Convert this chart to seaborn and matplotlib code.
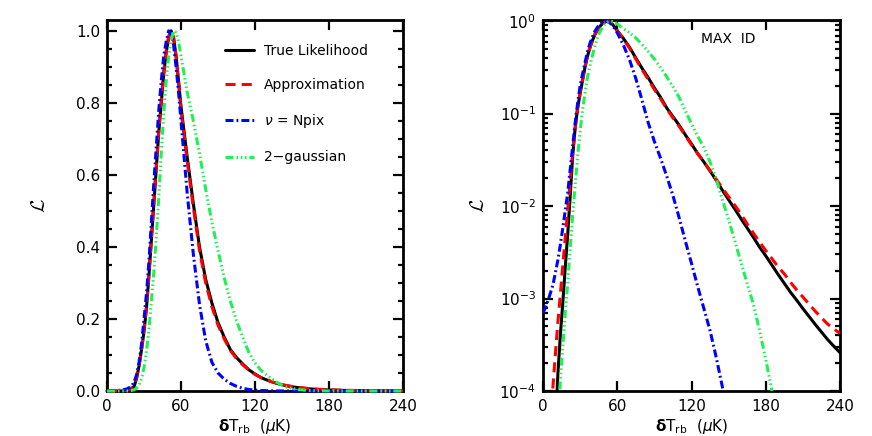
import matplotlib
matplotlib.use("Agg")
import matplotlib.pyplot as plt
import numpy as np
import pandas as pd
import seaborn as sns
from matplotlib.ticker import MultipleLocator, LogLocator, NullFormatter, FixedLocator

# ---------------- data ----------------
t_grid = [0, 2, 4, 6, 8, 10, 12, 14, 16, 18, 20, 22, 24, 26, 28, 30, 32, 34, 36, 38,
          40, 42, 44, 46, 48, 50, 52, 54, 56, 58, 60,
          65, 70, 75, 80, 85, 90, 95, 100, 105, 110, 115, 120, 125, 130, 135, 140,
          145, 150, 155, 160, 165, 170, 175, 180, 185, 190, 195, 200, 205, 210, 215,
          220, 225, 230, 235, 240]

true_like = [1e-9, 1e-8, 1e-7, 1e-6, 8e-6, 4e-5, 1.5e-4, 4e-4, 9e-4, 2.2e-3, 5e-3, 1.3e-2,
             0.035, 0.07, 0.115, 0.165, 0.23, 0.32, 0.42, 0.52, 0.62, 0.72, 0.80, 0.88,
             0.94, 0.98, 1.0, 0.98, 0.93, 0.86, 0.79,
             0.65, 0.52, 0.40, 0.31, 0.245, 0.19, 0.15, 0.115, 0.093, 0.075, 0.059, 0.047,
             0.037, 0.030, 0.024, 0.019, 0.0148, 0.0117, 0.0093, 0.0073, 0.0058, 0.0046,
             0.0036, 0.0029, 0.0023, 0.00182, 0.00146, 0.00117, 9.6e-4, 7.8e-4, 6.4e-4,
             5.25e-4, 4.35e-4, 3.6e-4, 3.05e-4, 2.6e-4]

approx = [1e-7, 1e-6, 8e-6, 4e-5, 1.1e-4, 2.5e-4, 5.5e-4, 1.1e-3, 2.3e-3, 4.6e-3, 9e-3,
          0.019, 0.038, 0.07, 0.115, 0.17, 0.235, 0.325, 0.425, 0.525, 0.625, 0.725, 0.81,
          0.885, 0.945, 0.985, 1.0, 0.98, 0.93, 0.86, 0.78,
          0.64, 0.51, 0.39, 0.30, 0.235, 0.183, 0.145, 0.113, 0.09, 0.073, 0.058, 0.046,
          0.037, 0.030, 0.0242, 0.0195, 0.0156, 0.0126, 0.0102, 0.0082, 0.0064, 0.0051,
          0.0041, 0.0033, 0.0027, 0.0022, 0.00185, 0.0015, 0.00124, 0.00104, 8.7e-4,
          7.3e-4, 6.2e-4, 5.3e-4, 4.7e-4, 4.2e-4]

nu_npix = [7e-4, 8e-4, 9.5e-4, 1.15e-3, 1.4e-3, 1.9e-3, 2.6e-3, 3.8e-3, 5.8e-3, 9e-3, 0.014,
           0.025, 0.045, 0.08, 0.13, 0.2, 0.27, 0.36, 0.47, 0.58, 0.68, 0.78, 0.86, 0.93,
           0.97, 1.0, 0.99, 0.96, 0.9, 0.83, 0.75,
           0.55, 0.38, 0.24, 0.14, 0.08, 0.05, 0.033, 0.021, 0.013, 0.0075, 0.0042, 0.0024,
           1.35e-3, 7.8e-4, 4.5e-4, 2.3e-4, 1.1e-4, 5e-5, 2e-5, 8e-6, 3e-6, 1e-6, 4e-7,
           1.5e-7, 5e-8, 2e-8, 7e-9, 2.5e-9, 1e-9, 4e-10, 1.5e-10, 5e-11, 2e-11, 7e-12,
           2.5e-12, 1e-12]

two_gauss = [1e-10, 1e-9, 1e-8, 1e-7, 1e-6, 1e-5, 4e-5, 1.3e-4, 3e-4, 7e-4, 1.5e-3, 3.5e-3,
             8e-3, 0.017, 0.035, 0.065, 0.11, 0.17, 0.25, 0.33, 0.43, 0.54, 0.66, 0.77,
             0.86, 0.93, 0.975, 1.0, 0.995, 0.97, 0.93,
             0.83, 0.75, 0.66, 0.56, 0.47, 0.39, 0.315, 0.25, 0.195, 0.15, 0.107, 0.078,
             0.057, 0.043, 0.030, 0.0195, 0.0117, 0.0071, 0.0042, 0.00245, 0.00145, 8.7e-4,
             4.5e-4, 2.2e-4, 1e-4, 4e-5, 1.5e-5, 5e-6, 1.5e-6, 4e-7, 1e-7, 2.5e-8, 6e-9,
             1.5e-9, 3e-10, 6e-11]

series_names = ["True Likelihood", "Approximation", r"$\nu$ = Npix", "2\u2212gaussian"]
series_colors = ["#000000", "#ff0000", "#0000ff", "#22ee55"]
series_dashes = ["", (3.3, 2.0), (2.6, 1.0, 0.6, 1.0),
                 (2.6, 1.0, 0.5, 0.9, 0.5, 0.9, 0.5, 0.9)]
x_ticks = [0, 60, 120, 180, 240]
y_ticks_lin = [0.0, 0.2, 0.4, 0.6, 0.8, 1.0]
y_ticklabels_lin = ["0.0", "0.2", "0.4", "0.6", "0.8", "1.0"]
y_ticks_log = [1e-4, 1e-3, 1e-2, 1e-1, 1e0]
panel_note = "MAX  ID"

frames = []
for name, vals in zip(series_names, [true_like, approx, nu_npix, two_gauss]):
    frames.append(pd.DataFrame({"T": t_grid, "L": vals, "series": name}))
df = pd.concat(frames, ignore_index=True)

# ---------------- style ----------------
sns.set_theme(style="ticks")
plt.rcParams.update({
    "font.family": ["DejaVu Sans"],
    "font.size": 10,
    "axes.edgecolor": "black",
    "axes.linewidth": 2.0,
    "axes.facecolor": "white",
    "figure.facecolor": "white",
    "xtick.color": "black",
    "ytick.color": "black",
    "text.color": "black",
    "axes.labelcolor": "black",
})

fig = plt.figure(figsize=(8.72, 4.36), dpi=100)
ax1 = fig.add_axes([107 / 872, 1 - 391 / 436, 296 / 872, 371 / 436])
ax2 = fig.add_axes([543 / 872, 1 - 391 / 436, 297 / 872, 371 / 436])

pal = dict(zip(series_names, series_colors))
dmap = dict(zip(series_names, series_dashes))

sns.lineplot(data=df, x="T", y="L", hue="series", style="series",
             hue_order=series_names, style_order=series_names,
             palette=pal, dashes=dmap, linewidth=2.2, legend=False,
             ax=ax1, zorder=3, clip_on=False, estimator=None, sort=False)
sns.lineplot(data=df, x="T", y="L", hue="series", style="series",
             hue_order=series_names, style_order=series_names,
             palette=pal, dashes=dmap, linewidth=2.2, legend=False,
             ax=ax2, zorder=3, estimator=None, sort=False)

for ax in (ax1, ax2):
    ax.set_xlim(0, 240)
    ax.set_xticks(x_ticks)
    ax.set_xticklabels([str(v) for v in x_ticks])
    ax.tick_params(which="both", direction="in", top=True, right=True,
                   labelsize=11, width=1.6)
    ax.tick_params(which="major", length=7)
    ax.tick_params(which="minor", length=3.5)
    ax.tick_params(axis="x", pad=6)
    ax.tick_params(axis="y", pad=5)
    ax.set_xlabel(r"$\mathbf{\delta}$T$_{\rm rb}$  ($\mu$K)", fontsize=11, labelpad=2)
    for s in ax.spines.values():
        s.set_linewidth(2.0)
        s.set_zorder(2.5)

ax1.set_ylim(0, 1.03)
ax1.set_yticks(y_ticks_lin)
ax1.set_yticklabels(y_ticklabels_lin)
ax1.yaxis.set_minor_locator(MultipleLocator(0.05))
ax1.set_ylabel(r"$\mathcal{L}$", fontsize=14, math_fontfamily="cm")
ax1.yaxis.set_label_coords(-0.195, 0.5)

ax2.set_yscale("log")
ax2.set_ylim(1e-4, 1.03)
ax2.yaxis.set_major_locator(FixedLocator(y_ticks_log))
ax2.yaxis.set_minor_locator(LogLocator(base=10, subs=np.arange(2, 10)))
ax2.yaxis.set_minor_formatter(NullFormatter())
ax2.set_ylabel(r"$\mathcal{L}$", fontsize=14, math_fontfamily="cm")
ax2.yaxis.set_label_coords(-0.185, 0.5)
ax2.text(0.623, 0.949, panel_note, transform=ax2.transAxes, fontsize=10,
         ha="center", va="center")

handles = ax1.get_lines()[:4]
ax1.legend(handles, series_names, loc="upper left",
           bbox_to_anchor=(225 / 872, 1 - 44 / 436), bbox_transform=fig.transFigure,
           frameon=False, fontsize=10, handlelength=2.1, handletextpad=0.7,
           labelspacing=1.45, borderpad=0, borderaxespad=0)

fig.savefig("out.png", dpi=100)
